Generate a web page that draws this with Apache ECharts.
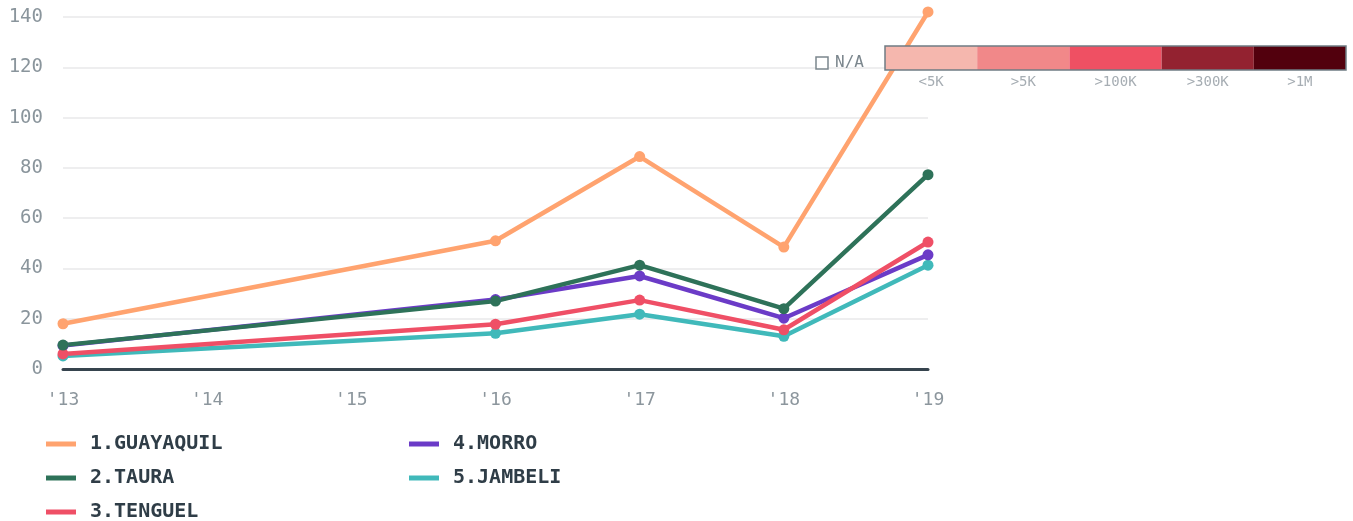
<!DOCTYPE html>
<html><head><meta charset="utf-8">
<script src="https://cdn.jsdelivr.net/npm/echarts@6/dist/echarts.min.js"></script>
<style>html,body{margin:0;padding:0;background:#fff}#c{width:1353px;height:521px}</style>
</head><body><div id="c"></div>
<script>
const years = ["'13","'14","'15","'16","'17","'18","'19"];
const guayaquil = [18, null, null, 51, 84.5, 48.5, 142];
const taura     = [9.5, null, null, 27, 41.3, 24, 77.3];
const tenguel   = [6, null, null, 17.8, 27.4, 15.6, 50.5];
const morro     = [9.3, null, null, 27.6, 37, 20.2, 45.4];
const jambeli   = [5.2, null, null, 14.2, 21.8, 13, 41.3];
const seriesNames = ['1.GUAYAQUIL','2.TAURA','3.TENGUEL','4.MORRO','5.JAMBELI'];
const seriesColors = ['#ffa36f','#2e7259','#ef4f66','#6b3bc7','#40b9ba'];
const yTicks = [0,20,40,60,80,100,120,140];
const scaleLabels = ['<5K','>5K','>100K','>300K','>1M'];
const scaleColors = ['#f5b7ae','#f18889','#ef5063','#932230','#52000d'];

const font = "'DejaVu Sans Mono', 'Liberation Mono', monospace";
const dataMap = {'1.GUAYAQUIL':guayaquil,'2.TAURA':taura,'3.TENGUEL':tenguel,'4.MORRO':morro,'5.JAMBELI':jambeli};
const drawOrder = ['5.JAMBELI','4.MORRO','3.TENGUEL','2.TAURA','1.GUAYAQUIL'];

const series = drawOrder.map(n => {
  const c = seriesColors[seriesNames.indexOf(n)];
  return {
    name: n, type: 'line', data: dataMap[n], connectNulls: true, clip: false,
    symbol: 'circle', symbolSize: 11,
    lineStyle: {width: 4.5, color: c},
    itemStyle: {color: c},
    emphasis: {disabled: true}
  };
});

// decorative scale legend
const graphics = [];
const bx = 885, by = 46, bw = 461, bh = 24, pw = bw / scaleLabels.length;
scaleLabels.forEach((l, i) => {
  graphics.push({type:'rect', shape:{x:bx + i*pw, y:by, width:pw, height:bh}, style:{fill:scaleColors[i]}, z:100});
  graphics.push({type:'text', x:bx + i*pw + pw/2, y:by+bh+5, style:{text:l, fill:'#a6adb3', font:'14px ' + font, textAlign:'center', textVerticalAlign:'top'}, z:100});
});
graphics.push({type:'rect', shape:{x:bx, y:by, width:bw, height:bh}, style:{fill:'none', stroke:'#6f7c84', lineWidth:1.5}, z:101});
graphics.push({type:'rect', shape:{x:816, y:57, width:12, height:12}, style:{fill:'#fff', stroke:'#7b868d', lineWidth:1.5}, z:100});
graphics.push({type:'text', x:835, y:63, style:{text:'N/A', fill:'#7b868d', font:'16px ' + font, textVerticalAlign:'middle'}, z:100});

const legendBase = {
  orient: 'vertical', icon: 'rect', itemWidth: 30, itemHeight: 5, itemGap: 14, padding: 0, height: 120,
  textStyle: {color:'#2f3d47', fontFamily: font, fontWeight:'bold', fontSize: 20, lineHeight: 20, padding:[0,0,0,9]},
  selectedMode: false
};

const chart = echarts.init(document.getElementById('c'));
chart.setOption({
  animation: false,
  grid: {left: 63, right: 425, top: 17, bottom: 152},
  xAxis: {
    type: 'category', data: years, boundaryGap: false,
    axisLine: {lineStyle: {color:'#36444e', width: 3}},
    axisTick: {show: false},
    axisLabel: {color:'#8c969d', fontFamily: font, fontSize: 18, margin: 22}
  },
  yAxis: {
    type: 'value', min: 0, max: 140, interval: 20,
    axisLine: {show: false}, axisTick: {show: false},
    axisLabel: {color:'#8a959c', fontFamily: font, fontSize: 19, margin: 20},
    splitLine: {lineStyle: {color:'#e8e9ea', width: 1.5}}
  },
  legend: [
    Object.assign({}, legendBase, {left: 46, top: 434, data: seriesNames.slice(0,3)}),
    Object.assign({}, legendBase, {left: 409, top: 434, data: seriesNames.slice(3)})
  ],
  series: series,
  graphic: graphics
});
</script></body></html>
